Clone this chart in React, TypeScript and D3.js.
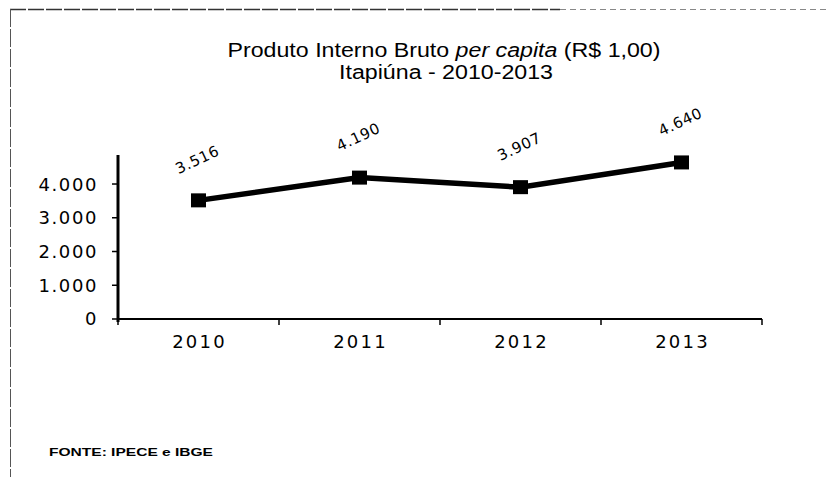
import React, { useEffect, useRef } from 'react';
import * as d3 from 'd3';

const years = ['2010', '2011', '2012', '2013'];
const pibValues = [3516, 4190, 3907, 4640];
const valueLabels = ['3.516', '4.190', '3.907', '4.640'];
const yTicks = [0, 1000, 2000, 3000, 4000];
const yTickLabels = ['0', '1.000', '2.000', '3.000', '4.000'];

const App = () => {
    const svgRef = useRef<SVGSVGElement>(null);

    useEffect(() => {
        const svg = d3.select(svgRef.current);
        const width = 828;
        const height = 477;
        const margin = { top: 155, right: 66, bottom: 158, left: 118 };
        const font = 'Liberation Sans, Arial, sans-serif';
        const wide = 'DejaVu Sans, sans-serif';

        svg.selectAll('*').remove();

        svg.append('rect').attr('width', width).attr('height', height).attr('fill', '#fff');

        // moldura escaneada
        svg.append('line')
            .attr('x1', 10).attr('x2', 560).attr('y1', 9.5).attr('y2', 9.5)
            .attr('stroke', '#333').attr('stroke-width', 1.3)
            .attr('stroke-dasharray', '16 2');
        svg.append('line')
            .attr('x1', 560).attr('x2', 828).attr('y1', 9.5).attr('y2', 9.5)
            .attr('stroke', '#888').attr('stroke-width', 1)
            .attr('stroke-dasharray', '6 4');
        svg.append('line')
            .attr('x1', 10.5).attr('x2', 10.5).attr('y1', 9).attr('y2', 477)
            .attr('stroke', '#555').attr('stroke-width', 1)
            .attr('stroke-dasharray', '18 2');

        // título (fonte esticada na horizontal como no original)
        const titleG = svg.append('g')
            .attr('transform', 'translate(444,57) scale(1.16,1)');
        const title = titleG.append('text')
            .attr('text-anchor', 'middle')
            .attr('font-family', font)
            .attr('font-size', 20);
        title.append('tspan').text('Produto Interno Bruto ');
        title.append('tspan').attr('font-style', 'italic').text('per capita');
        title.append('tspan').text(' (R$ 1,00)');
        svg.append('g')
            .attr('transform', 'translate(446,79) scale(1.16,1)')
            .append('text')
            .attr('text-anchor', 'middle')
            .attr('font-family', font)
            .attr('font-size', 20)
            .text('Itapiúna - 2010-2013');

        const x = d3.scaleBand()
            .domain(years)
            .range([margin.left, width - margin.right]);

        const y = d3.scaleLinear()
            .domain([0, 4860])
            .range([height - margin.bottom, margin.top]);

        const y0 = y(0);

        // eixo y
        svg.append('line')
            .attr('x1', margin.left).attr('x2', margin.left)
            .attr('y1', margin.top).attr('y2', y0 + 3)
            .attr('stroke', '#000').attr('stroke-width', 3);
        yTicks.forEach((t, i) => {
            svg.append('line')
                .attr('x1', margin.left - 6).attr('x2', margin.left)
                .attr('y1', y(t)).attr('y2', y(t))
                .attr('stroke', '#000').attr('stroke-width', 1.5);
            svg.append('text')
                .attr('x', 98).attr('y', y(t))
                .attr('dy', '0.36em')
                .attr('text-anchor', 'end')
                .attr('font-family', wide)
                .attr('font-size', 18)
                .attr('letter-spacing', 1.6)
                .text(yTickLabels[i]);
        });

        // eixo x
        svg.append('line')
            .attr('x1', margin.left).attr('x2', width - margin.right)
            .attr('y1', y0).attr('y2', y0)
            .attr('stroke', '#000').attr('stroke-width', 2);
        const bounds = years.map(d => x(d) as number).concat([width - margin.right]);
        bounds.forEach(b => {
            svg.append('line')
                .attr('x1', b).attr('x2', b)
                .attr('y1', y0).attr('y2', y0 + 6)
                .attr('stroke', '#000').attr('stroke-width', 1.5);
        });
        years.forEach(d => {
            svg.append('text')
                .attr('x', (x(d) as number) + x.bandwidth() / 2 + 1)
                .attr('y', y0 + 29)
                .attr('text-anchor', 'middle')
                .attr('font-family', wide)
                .attr('font-size', 18)
                .attr('letter-spacing', 2.2)
                .text(d);
        });

        const cx = (i: number) => (x(years[i]) as number) + x.bandwidth() / 2;

        const line = d3.line<number>()
            .x((d, i) => cx(i))
            .y(d => y(d));

        svg.append('path')
            .datum(pibValues)
            .attr('d', line)
            .attr('fill', 'none')
            .attr('stroke', '#000')
            .attr('stroke-width', 5.5);

        svg.append('g')
            .selectAll('rect')
            .data(pibValues)
            .join('rect')
            .attr('x', (d, i) => cx(i) - 7.5)
            .attr('y', d => y(d) - 7)
            .attr('width', 15)
            .attr('height', 14)
            .attr('fill', '#000');

        // rótulos de valores
        svg.append('g')
            .selectAll('text')
            .data(pibValues)
            .join('text')
            .attr('transform', (d, i) => `translate(${cx(i) + 1},${y(d) - 36}) rotate(-25)`)
            .attr('text-anchor', 'middle')
            .attr('font-family', wide)
            .attr('font-size', 15)
            .attr('letter-spacing', 0.7)
            .text((d, i) => valueLabels[i]);

        svg.append('text')
            .attr('x', 49).attr('y', 456)
            .attr('font-family', font)
            .attr('font-size', 11)
            .attr('font-weight', 'bold')
            .attr('textLength', 164)
            .attr('lengthAdjust', 'spacingAndGlyphs')
            .text('FONTE: IPECE e IBGE');
    }, []);

    return (
        <svg ref={svgRef} width={828} height={477}
            style={{ position: 'absolute', left: 0, top: 0 }}></svg>
    );
};

export default App;
